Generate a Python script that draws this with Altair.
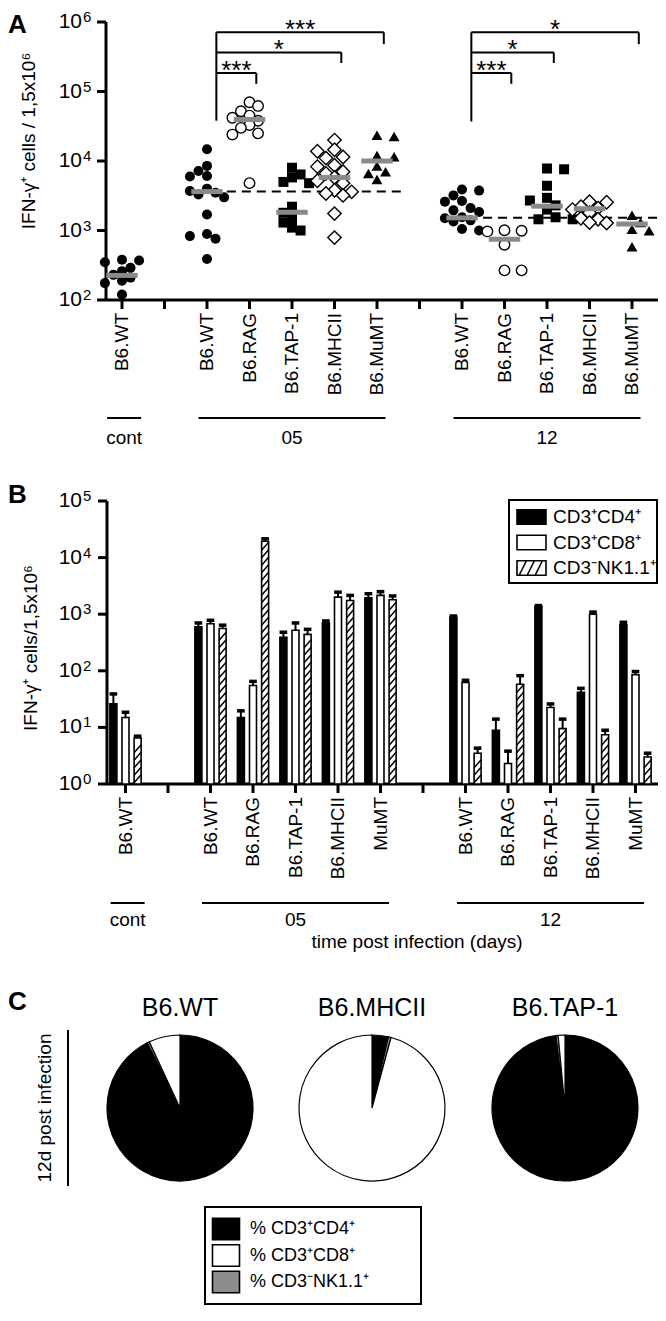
import math
import altair as alt
import pandas as pd

OFF = 8


def P(v):
    return v - OFF


FONT = "Liberation Sans"
CW, CH = 650, 1302
STEP = 42.5

# ---------------- shared categories ----------------
positions = [0, 2, 3, 4, 5, 6, 8, 9, 10, 11, 12]
labels_a = ["B6.WT", "B6.WT", "B6.RAG", "B6.TAP-1", "B6.MHCII", "B6.MuMT",
            "B6.WT", "B6.RAG", "B6.TAP-1", "B6.MHCII", "B6.MuMT"]
labels_b = ["B6.WT", "B6.WT", "B6.RAG", "B6.TAP-1", "B6.MHCII", "MuMT",
            "B6.WT", "B6.RAG", "B6.TAP-1", "B6.MHCII", "MuMT"]
tick_slots = list(range(13))
group_names = ["cont", "05", "12"]
group_from = [-0.35, 1.8, 7.8]
group_to = [0.45, 6.2, 12.2]

# ---------------- panel A ----------------
a_values = [
    [380, 370, 350, 290, 260, 230, 210, 190, 175, 120],
    [14800, 8500, 7200, 6100, 6000, 4000, 3700, 3500, 3300, 3000, 1700, 890, 830, 760, 390],
    [70000, 62000, 52000, 45000, 42000, 38000, 33000, 30000, 25000, 24000, 4800],
    [8000, 6400, 5800, 5000, 4800, 2200, 1800, 1500, 1300, 1100, 1000],
    [20000, 14500, 13800, 11400, 11000, 8700, 8300, 7000, 6600, 5800, 5200, 4800,
     3800, 3600, 3400, 3200, 1750, 790],
    [23500, 22500, 12000, 11500, 8500, 7000, 6600, 5400],
    [3900, 3750, 3200, 2650, 2600, 2100, 1950, 1850, 1550, 1500, 1400, 1350, 1050, 1000],
    [1010, 990, 970, 625, 267, 267],
    [7800, 7600, 4400, 2950, 2700, 2300, 2000, 1550, 1450, 1450],
    [2600, 2550, 2200, 2100, 2000, 1800, 1500, 1450, 1300, 1280],
    [1660, 1300, 1040, 990, 585],
]
a_median = [226, 3630, 39400, 1830, 5800, 10000, 1520, 750, 2240, 2060, 1240]
dash_from = [1.76, 7.79]
dash_to = [6.61, 12.6]
dash_level = [3630, 1520]
br_base = [2, 2, 2, 8, 8, 8]
br_target = [6, 5, 3, 12, 10, 9]
br_level = [7.1e5, 3.65e5, 1.85e5, 7.1e5, 3.65e5, 1.85e5]
br_drop = [4.8e5, 2.57e5, 1.29e5, 4.8e5, 2.57e5, 1.29e5]
br_stars = ["***", "*", "***", "*", "*", "***"]
br_bottom = [3.8e4, 3.7e4]
a_yticks = [1e2, 1e3, 1e4, 1e5, 1e6]
a_yexp = ["2", "3", "4", "5", "6"]

# ---------------- panel B ----------------
b_series = ["CD3⁺CD4⁺", "CD3⁺CD8⁺", "CD3⁻NK1.1⁺"]
cd4_mean = [26, 600, 15, 390, 700, 1950, 880, 8.9, 1350, 41.5, 650]
cd4_upper = [39, 700, 19.6, 480, 760, 2300, 930, 14, 1420, 49, 720]
cd8_mean = [15, 680, 55, 520, 2000, 2150, 62, 2.3, 22.5, 1000, 85]
cd8_upper = [18.5, 780, 65, 700, 2450, 2500, 68, 3.8, 26, 1090, 97]
nk_mean = [6.5, 560, 19500, 440, 1750, 1800, 3.5, 58, 9.5, 7.4, 3.0]
nk_upper = [7, 640, 21500, 540, 2150, 2100, 4.3, 82, 14, 8.9, 3.5]
b_yticks = [1, 10, 100, 1e3, 1e4, 1e5]
b_yexp = ["0", "1", "2", "3", "4", "5"]

# ---------------- panel C ----------------
pie_strains = ["B6.WT", "B6.MHCII", "B6.TAP-1"]
pie_series = ["% CD3⁺CD4⁺", "% CD3⁺CD8⁺", "% CD3⁻NK1.1⁺"]
pct_cd4 = [92.6, 3.6, 98.0]
pct_cd8 = [6.9, 95.8, 1.5]
pct_nk = [0.5, 0.6, 0.5]

# ---------------- layout constants (reference pixels) ----------------
A_C0, A_XL, A_XR, A_YB, A_YT = 122, 106, 658, 300, 22
B_C0, B_XL, B_XR, B_YB, B_YT = 125.5, 107, 658, 784, 501


def xscale(c0, xl, xr):
    return alt.Scale(domain=[(xl - c0) / STEP, (xr - c0) / STEP],
                     range=[P(xl), P(xr)], zero=False, nice=False)


def yscale(lo, hi, yb, yt):
    return alt.Scale(type="log", domain=[lo, hi], range=[P(yb), P(yt)], nice=False)


def SXA():
    return xscale(A_C0, A_XL, A_XR)


def SYA():
    return yscale(1e2, 1e6, A_YB, A_YT)


def SXB():
    return xscale(B_C0, B_XL, B_XR)


def SYB():
    return yscale(1, 1e5, B_YB, B_YT)


def qx(field, sc):
    return alt.X(f"{field}:Q", scale=sc, axis=None)


def qy(field, sc):
    return alt.Y(f"{field}:Q", scale=sc, axis=None)


def tmark(**kw):
    base = dict(font=FONT, color="black")
    base.update(kw)
    return base


def panel_axes(SX, SY, c0, xl, xr, yb, ylo, yhi, yticks, yexp, labels, lab_y, gl_y, gt_y):
    out = []
    ax = pd.DataFrame({"a": [ylo], "b": [yhi]})
    out.append(alt.Chart(ax).mark_rule(color="black", strokeWidth=3).encode(
        x=alt.value(P(xl)), y=qy("a", SY()), y2="b:Q"))
    bx = pd.DataFrame({"a": [(xl - c0) / STEP], "b": [(xr - c0) / STEP]})
    out.append(alt.Chart(bx).mark_rule(color="black", strokeWidth=3).encode(
        y=alt.value(P(yb)), x=qx("a", SX()), x2="b:Q"))
    yt_df = pd.DataFrame({"v": yticks, "e": yexp})
    out.append(alt.Chart(yt_df).mark_rule(color="black", strokeWidth=3).encode(
        x=alt.value(P(xl - 9)), x2=alt.value(P(xl)), y=qy("v", SY())))
    out.append(alt.Chart(yt_df).mark_text(**tmark(align="right", baseline="middle", fontSize=21)).encode(
        x=alt.value(P(82)), y=qy("v", SY()), text=alt.value("10")))
    out.append(alt.Chart(yt_df).mark_text(**tmark(align="left", baseline="middle", fontSize=15, dy=-5)).encode(
        x=alt.value(P(83)), y=qy("v", SY()), text="e:N"))
    xt_df = pd.DataFrame({"p": tick_slots})
    out.append(alt.Chart(xt_df).mark_rule(color="black", strokeWidth=3).encode(
        x=qx("p", SX()), y=alt.value(P(yb)), y2=alt.value(P(yb + 9))))
    xl_df = pd.DataFrame({"p": positions, "t": labels})
    out.append(alt.Chart(xl_df).mark_text(**tmark(angle=270, align="right", baseline="middle", fontSize=19)).encode(
        x=qx("p", SX()), y=alt.value(P(lab_y)), text="t:N"))
    g_df = pd.DataFrame({"g": group_names, "a": group_from, "b": group_to})
    g_df["m"] = (g_df["a"] + g_df["b"]) / 2
    out.append(alt.Chart(g_df).mark_rule(color="black", strokeWidth=2).encode(
        x=qx("a", SX()), x2="b:Q", y=alt.value(P(gl_y))))
    out.append(alt.Chart(g_df).mark_text(**tmark(align="center", baseline="middle", fontSize=19)).encode(
        x=qx("m", SX()), y=alt.value(P(gt_y)), text="g:N"))
    return out


layers = []

# =============== PANEL A ===============
layers += panel_axes(SXA, SYA, A_C0, A_XL, A_XR, A_YB, 1e2, 1e6, a_yticks, a_yexp,
                     labels_a, 313, 418, 438)

layers.append(alt.Chart(pd.DataFrame({"t": ["A"]})).mark_text(
    **tmark(align="left", baseline="alphabetic", fontSize=26, fontWeight="bold")).encode(
    x=alt.value(0), y=alt.value(25), text="t:N"))
layers.append(alt.Chart(pd.DataFrame({"t": ["IFN-γ⁺ cells / 1,5x10⁶"]})).mark_text(
    **tmark(angle=270, align="center", baseline="middle", fontSize=19)).encode(
    x=alt.value(P(29)), y=alt.value(P(141)), text="t:N"))

# dashed reference lines
dash_df = pd.DataFrame({"a": dash_from, "b": dash_to, "v": dash_level})
layers.append(alt.Chart(dash_df).mark_rule(color="black", strokeWidth=2, strokeDash=[9, 6]).encode(
    x=qx("a", SXA()), x2="b:Q", y=qy("v", SYA())))


def ypix_a(v):
    return A_YB - (A_YB - A_YT) / 4.0 * (math.log10(v) - 2)


def swarm(vals, ypix, d=9.0):
    placed = []
    out = [0.0] * len(vals)
    order = sorted(range(len(vals)), key=lambda k: -vals[k])
    for n, k in enumerate(order):
        py = ypix(vals[k])
        best = None
        for m in range(0, 9):
            sides = [0] if m == 0 else ([-1, 1] if n % 2 == 0 else [1, -1])
            for sgn in sides:
                cx = sgn * m * d * 0.95
                if all((py - qy_) ** 2 + (cx - qx_) ** 2 >= d * d for qy_, qx_ in placed):
                    best = cx
                    break
            if best is not None:
                break
        placed.append((py, best))
        out[k] = best / STEP
    return out


rows = []
for i, p in enumerate(positions):
    offs = swarm(a_values[i], ypix_a)
    for v, o in zip(a_values[i], offs):
        rows.append({"strain": labels_a[i], "pos": p, "xj": p + o, "v": v})
pts = pd.DataFrame(rows)

marker_style = {
    "B6.WT": ("circle", "black", 100, 0),
    "B6.RAG": ("circle", "white", 110, 1.4),
    "B6.TAP-1": ("square", "black", 100, 0),
    "B6.MHCII": ("diamond", "white", 180, 1.4),
    "B6.MuMT": ("triangle-up", "black", 120, 0),
}
for s, (shape, fill, size, sw) in marker_style.items():
    sub = pts[pts["strain"] == s]
    layers.append(alt.Chart(sub).mark_point(
        shape=shape, filled=True, fill=fill, stroke="black", strokeWidth=sw, size=size, opacity=1).encode(
        x=qx("xj", SXA()), y=qy("v", SYA())))

med_df = pd.DataFrame({"a": [p - 0.37 for p in positions], "b": [p + 0.37 for p in positions], "v": a_median})
layers.append(alt.Chart(med_df).mark_rule(color="#8a8a8a", strokeWidth=5).encode(
    x=qx("a", SXA()), x2="b:Q", y=qy("v", SYA())))

# significance brackets
seg = []
stars = []
for b, t, lv, dr, st in zip(br_base, br_target, br_level, br_drop, br_stars):
    left = b + 0.22
    right = t + 0.16
    seg.append({"x": left, "x2": right, "y": lv, "y2": lv})
    seg.append({"x": right, "x2": right, "y": lv, "y2": dr})
    stars.append({"x": (left + right) / 2, "y": lv, "t": st})
for b, bot in zip([2, 8], br_bottom):
    seg.append({"x": b + 0.22, "x2": b + 0.22, "y": br_level[0], "y2": bot})
seg_df = pd.DataFrame(seg)
layers.append(alt.Chart(seg_df).mark_rule(color="black", strokeWidth=2).encode(
    x=qx("x", SXA()), x2="x2:Q", y=qy("y", SYA()), y2="y2:Q"))
layers.append(alt.Chart(pd.DataFrame(stars)).mark_text(
    **tmark(align="center", baseline="alphabetic", fontSize=26, dy=6)).encode(
    x=qx("x", SXA()), y=qy("y", SYA()), text="t:N"))

# =============== PANEL B ===============
layers += panel_axes(SXB, SYB, B_C0, B_XL, B_XR, B_YB, 1, 1e5, b_yticks, b_yexp,
                     labels_b, 797, 903, 920)
layers.append(alt.Chart(pd.DataFrame({"t": ["B"]})).mark_text(
    **tmark(align="left", baseline="alphabetic", fontSize=26, fontWeight="bold")).encode(
    x=alt.value(0), y=alt.value(P(503)), text="t:N"))
layers.append(alt.Chart(pd.DataFrame({"t": ["IFN-γ⁺ cells/1,5x10⁶"]})).mark_text(
    **tmark(angle=270, align="center", baseline="middle", fontSize=19)).encode(
    x=alt.value(P(31)), y=alt.value(P(648)), text="t:N"))
layers.append(alt.Chart(pd.DataFrame({"t": ["time post infection (days)"]})).mark_text(
    **tmark(align="center", baseline="middle", fontSize=19)).encode(
    x=alt.value(P(417)), y=alt.value(P(942)), text="t:N"))

BW = 7.0 / STEP
b_off = [-0.285, 0.0, 0.285]
b_means = [cd4_mean, cd8_mean, nk_mean]
b_ups = [cd4_upper, cd8_upper, nk_upper]
brow = []
for si, s in enumerate(b_series):
    for i, p in enumerate(positions):
        c = p + b_off[si]
        brow.append({"series": s, "c": c, "x0": c - BW / 2, "x1": c + BW / 2,
                     "cl": c - 0.09, "cr": c + 0.09,
                     "v": b_means[si][i], "up": b_ups[si][i], "base": 1.0})
bars = pd.DataFrame(brow)

# error bars
layers.append(alt.Chart(bars).mark_rule(color="black", strokeWidth=2).encode(
    x=qx("c", SXB()), y=qy("v", SYB()), y2="up:Q"))
layers.append(alt.Chart(bars).mark_rule(color="black", strokeWidth=3.5).encode(
    x=qx("cl", SXB()), x2="cr:Q", y=qy("up", SYB())))

bar_fill = ["black", "white", "white"]
for si, s in enumerate(b_series):
    sub = bars[bars["series"] == s]
    layers.append(alt.Chart(sub).mark_rect(fill=bar_fill[si], stroke="black", strokeWidth=1.6).encode(
        x=qx("x0", SXB()), x2="x1:Q", y=qy("v", SYB()), y2="base:Q"))

# hatching of NK bars
DEC = (B_YB - B_YT) / 5.0
hrow = []
for i, p in enumerate(positions):
    c = p + b_off[2]
    top = math.log10(nk_mean[i])
    rise = 8.0 / DEC
    stepd = 7.5 / DEC
    t = 0.02
    while t + rise <= top - 0.01:
        hrow.append({"x0": c - BW / 2, "x1": c + BW / 2, "y0": 10 ** t, "y1": 10 ** (t + rise)})
        t += stepd
hatch = pd.DataFrame(hrow)
layers.append(alt.Chart(hatch).mark_rule(color="black", strokeWidth=1.5).encode(
    x=qx("x0", SXB()), x2="x1:Q", y=qy("y0", SYB()), y2="y1:Q"))

# legend B
RECT = "M-1,-0.5H1V0.5H-1Z"
HATCH = ("M-1,-0.5H1V0.5H-1Z M-0.85,0.5L-0.35,-0.5 M-0.3,0.5L0.2,-0.5 "
         "M0.25,0.5L0.75,-0.5")
layers.append(alt.Chart(pd.DataFrame({"k": [0]})).mark_rect(fill="white", stroke="black", strokeWidth=2).encode(
    x=alt.value(P(509)), x2=alt.value(P(657)), y=alt.value(P(500)), y2=alt.value(P(583))))
leg_b = pd.DataFrame({"lab": b_series})
layers.append(alt.Chart(leg_b).mark_point(filled=True, stroke="black", strokeWidth=1.6, size=841, opacity=1).encode(
    x=alt.value(P(531.5)),
    y=alt.Y("lab:N", scale=alt.Scale(domain=b_series, range=[P(517), P(568)], padding=0), axis=None),
    shape=alt.Shape("lab:N", scale=alt.Scale(domain=b_series, range=[RECT, RECT, HATCH]), legend=None),
    fill=alt.Fill("lab:N", scale=alt.Scale(domain=b_series, range=["black", "white", "white"]), legend=None)))
layers.append(alt.Chart(leg_b).mark_text(**tmark(align="left", baseline="middle", fontSize=19)).encode(
    x=alt.value(P(553)),
    y=alt.Y("lab:N", scale=alt.Scale(domain=b_series, range=[P(517), P(568)], padding=0), axis=None),
    text="lab:N"))

# =============== PANEL C ===============
layers.append(alt.Chart(pd.DataFrame({"t": ["C"]})).mark_text(
    **tmark(align="left", baseline="alphabetic", fontSize=26, fontWeight="bold")).encode(
    x=alt.value(0), y=alt.value(P(1010)), text="t:N"))

pie_cx = [180, 372, 565]
PIE_CY = 1108
prow = []
for i, s in enumerate(pie_strains):
    prow.append({"strain": s, "series": pie_series[0], "pct": pct_cd4[i], "ord": 0})
    prow.append({"strain": s, "series": pie_series[2], "pct": pct_nk[i], "ord": 1})
    prow.append({"strain": s, "series": pie_series[1], "pct": pct_cd8[i], "ord": 2})
pies = pd.DataFrame(prow)
pie_colors = ["black", "white", "#8c8c8c"]
for i, s in enumerate(pie_strains):
    sub = pies[pies["strain"] == s]
    layers.append(alt.Chart(sub).mark_arc(outerRadius=73, stroke="black", strokeWidth=1.2).encode(
        theta=alt.Theta("pct:Q", stack=True),
        order=alt.Order("ord:Q"),
        fill=alt.Fill("series:N", scale=alt.Scale(domain=pie_series, range=pie_colors), legend=None),
        x=alt.value(P(pie_cx[i])), y=alt.value(P(PIE_CY))))
    layers.append(alt.Chart(pd.DataFrame({"t": [s]})).mark_text(
        **tmark(align="center", baseline="middle", fontSize=25)).encode(
        x=alt.value(P(pie_cx[i])), y=alt.value(P(1008)), text="t:N"))

layers.append(alt.Chart(pd.DataFrame({"k": [0]})).mark_rule(color="black", strokeWidth=2).encode(
    x=alt.value(P(68)), y=alt.value(P(1030)), y2=alt.value(P(1186))))
layers.append(alt.Chart(pd.DataFrame({"t": ["12d post infection"]})).mark_text(
    **tmark(angle=270, align="center", baseline="middle", fontSize=19)).encode(
    x=alt.value(P(45)), y=alt.value(P(PIE_CY)), text="t:N"))

# legend C
SQ = "M-1,-0.8H1V0.8H-1Z"
layers.append(alt.Chart(pd.DataFrame({"k": [0]})).mark_rect(fill="white", stroke="black", strokeWidth=2).encode(
    x=alt.value(P(205)), x2=alt.value(P(421)), y=alt.value(P(1207)), y2=alt.value(P(1304))))
leg_c = pd.DataFrame({"lab": pie_series})
leg_cy = [P(1229), P(1282)]
layers.append(alt.Chart(leg_c).mark_point(filled=True, stroke="black", strokeWidth=1.6, size=729, opacity=1).encode(
    x=alt.value(P(226)),
    y=alt.Y("lab:N", scale=alt.Scale(domain=pie_series, range=leg_cy, padding=0), axis=None),
    shape=alt.Shape("lab:N", scale=alt.Scale(domain=pie_series, range=[SQ, SQ, SQ]), legend=None),
    fill=alt.Fill("lab:N", scale=alt.Scale(domain=pie_series, range=["black", "white", "#8c8c8c"]), legend=None)))
layers.append(alt.Chart(leg_c).mark_text(**tmark(align="left", baseline="middle", fontSize=18)).encode(
    x=alt.value(P(250)),
    y=alt.Y("lab:N", scale=alt.Scale(domain=pie_series, range=leg_cy, padding=0), axis=None),
    text="lab:N"))

res = {ch: "independent" for ch in ["x", "y", "theta", "fill", "shape", "color", "size", "opacity", "stroke"]}
chart = alt.layer(*layers).resolve_scale(**res).properties(
    width=CW, height=CH, padding=0, autosize=alt.AutoSizeParams(type="none")
).configure_view(strokeWidth=0)

chart.save("out.html", embed_options={"renderer": "svg", "actions": False})
